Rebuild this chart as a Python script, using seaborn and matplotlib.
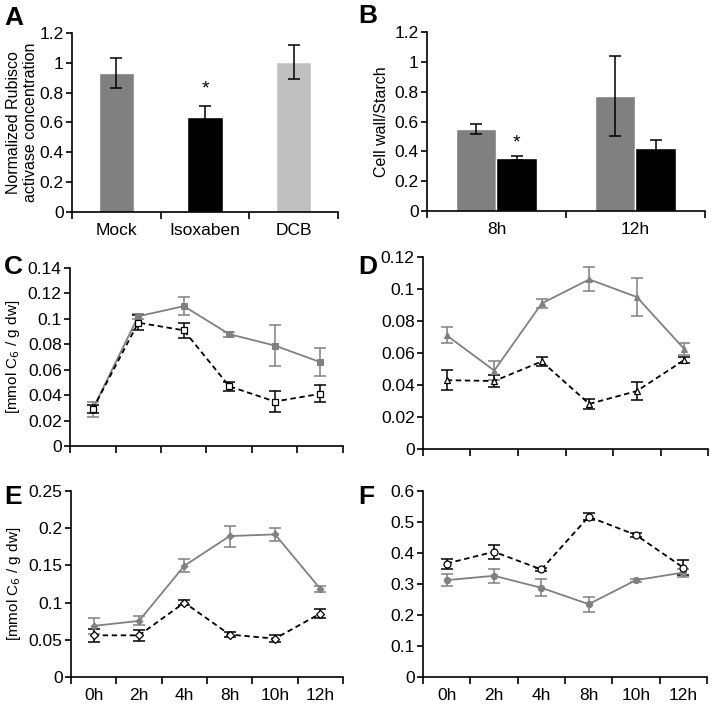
import numpy as np
import pandas as pd
import matplotlib
matplotlib.use("Agg")
import matplotlib.pyplot as plt
import seaborn as sns

# ---------------- data ----------------
a_groups = ["Mock", "Isoxaben", "DCB"]
a_values = [0.93, 0.64, 1.005]
a_errors = [0.10, 0.07, 0.115]

b_times = ["8h", "12h"]
b_series = ["Mock", "Isoxaben"]
b_mock = [0.55, 0.77]
b_mock_err = [0.035, 0.27]
b_iso = [0.355, 0.42]
b_iso_err = [0.015, 0.055]

times = ["0h", "2h", "4h", "8h", "10h", "12h"]

c_gray = [0.029, 0.102, 0.110, 0.088, 0.079, 0.066]
c_gray_err = [0.006, 0.002, 0.007, 0.002, 0.016, 0.011]
c_black = [0.029, 0.097, 0.091, 0.047, 0.035, 0.041]
c_black_err = [0.003, 0.006, 0.006, 0.0035, 0.008, 0.0066]

d_gray = [0.071, 0.049, 0.091, 0.106, 0.095, 0.0625]
d_gray_err = [0.005, 0.006, 0.003, 0.0075, 0.012, 0.004]
d_black = [0.043, 0.0425, 0.0547, 0.0282, 0.0362, 0.0556]
d_black_err = [0.0063, 0.004, 0.003, 0.003, 0.0055, 0.002]

e_gray = [0.0687, 0.0754, 0.1495, 0.1894, 0.1917, 0.1185]
e_gray_err = [0.0105, 0.006, 0.0085, 0.014, 0.0088, 0.004]
e_black = [0.056, 0.056, 0.100, 0.057, 0.0516, 0.0853]
e_black_err = [0.009, 0.007, 0.003, 0.0036, 0.005, 0.0056]

f_gray = [0.3125, 0.3265, 0.2877, 0.235, 0.3125, 0.337]
f_gray_err = [0.019, 0.0225, 0.028, 0.024, 0.005, 0.013]
f_black = [0.366, 0.404, 0.347, 0.517, 0.458, 0.353]
f_black_err = [0.016, 0.023, 0.005, 0.011, 0.005, 0.023]

# ---------------- style ----------------
sns.set_theme(style="ticks")
plt.rcParams["font.family"] = ["Liberation Sans", "DejaVu Sans"]
plt.rcParams["axes.linewidth"] = 1.2
plt.rcParams["xtick.major.width"] = 1.2
plt.rcParams["ytick.major.width"] = 1.2
for k in ["text.color", "axes.labelcolor", "xtick.color", "ytick.color", "axes.edgecolor"]:
    plt.rcParams[k] = "black"

GRAY = "#808080"
LIGHT = "#c0c0c0"
TICK_FS = 12.5
LAB_FS = 11.5

fig = plt.figure(figsize=(7.11, 7.04), dpi=100)

def frac(l, r, b, t):
    W, H = 711, 704
    return [l / W, 1 - b / H, (r - l) / W, (b - t) / H]

axA = fig.add_axes(frac(72, 338, 212, 33))
axB = fig.add_axes(frac(427, 705, 211, 32))
axC = fig.add_axes(frac(70, 343, 446, 268))
axD = fig.add_axes(frac(423, 708, 449, 257))
axE = fig.add_axes(frac(71, 343, 677, 491))
axF = fig.add_axes(frac(423, 707, 677, 491))


def style_axis(ax, n, labels, show_labels=True):
    sns.despine(ax=ax)
    ax.set_xlim(-0.5, n - 0.5)
    ax.set_xticks(np.arange(n + 1) - 0.5)
    ax.set_xticklabels([])
    ax.set_xticks(np.arange(n), minor=True)
    ax.set_xticklabels(labels if show_labels else [], minor=True, fontsize=TICK_FS)
    ax.tick_params(axis="x", which="major", length=5, direction="out", color="black")
    ax.tick_params(axis="x", which="minor", length=0, pad=8)
    ax.tick_params(axis="y", length=4, direction="out", labelsize=TICK_FS, pad=2, color="black")
    for s in ax.spines.values():
        s.set_color("black")
    ax.set_xlabel("")
    ax.grid(False)


# ---------------- A ----------------
dfA = pd.DataFrame({"group": a_groups, "value": a_values})
sns.barplot(data=dfA, x="group", y="value", hue="group",
            palette=[GRAY, "black", LIGHT], width=0.4, ax=axA, legend=False,
            saturation=1)
axA.errorbar(np.arange(3), a_values, yerr=a_errors, fmt="none", ecolor="black",
             elinewidth=1.1, capsize=4, capthick=1.1)
axA.set_ylim(0, 1.2)
axA.set_yticks(np.arange(0, 1.21, 0.2))
axA.set_yticklabels(["0", "0.2", "0.4", "0.6", "0.8", "1", "1.2"])
style_axis(axA, 3, a_groups)
axA.set_ylabel("Normalized Rubisco\nactivase concentration", fontsize=LAB_FS, labelpad=1)
axA.text(1, 0.77, "*", ha="center", va="bottom", fontsize=14)

# ---------------- B ----------------
dfB = pd.DataFrame({"time": b_times * 2,
                    "series": [b_series[0]] * 2 + [b_series[1]] * 2,
                    "value": b_mock + b_iso})
sns.barplot(data=dfB, x="time", y="value", hue="series",
            palette=[GRAY, "black"], width=0.58, ax=axB, legend=False, saturation=1)
off = 0.58 / 4
axB.errorbar(np.arange(2) - off, b_mock, yerr=b_mock_err, fmt="none", ecolor="black",
             elinewidth=1.1, capsize=4, capthick=1.1)
axB.errorbar(np.arange(2) + off, b_iso, yerr=b_iso_err, fmt="none", ecolor="black",
             elinewidth=1.1, capsize=4, capthick=1.1)
axB.set_ylim(0, 1.2)
axB.set_yticks(np.arange(0, 1.21, 0.2))
axB.set_yticklabels(["0", "0.2", "0.4", "0.6", "0.8", "1", "1.2"])
style_axis(axB, 2, b_times)
axB.set_ylabel("Cell wall/Starch", fontsize=LAB_FS, labelpad=4)
axB.text(off, 0.40, "*", ha="center", va="bottom", fontsize=14)


# ---------------- line panels ----------------
def line_panel(ax, gray, gray_err, black, black_err, marker, ms_g, ms_b,
               ylim, yticks, ylabels, show_x):
    x = np.arange(len(times))
    sns.lineplot(x=x, y=gray, ax=ax, color=GRAY, linewidth=1.3, marker=marker,
                 markersize=ms_g, markerfacecolor=GRAY, markeredgecolor=GRAY)
    ax.errorbar(x, gray, yerr=gray_err, fmt="none", ecolor=GRAY, elinewidth=1.1,
                capsize=4, capthick=1.1, zorder=1)
    sns.lineplot(x=x, y=black, ax=ax, color="black", linewidth=1.3, marker=marker,
                 markersize=ms_b, markerfacecolor="white", markeredgecolor="black",
                 markeredgewidth=0.9, linestyle="--")
    ax.lines[-1].set_dashes((3, 2))
    ax.errorbar(x, black, yerr=black_err, fmt="none", ecolor="black", elinewidth=1.1,
                capsize=4, capthick=1.1, zorder=1)
    ax.set_ylim(*ylim)
    ax.set_yticks(yticks)
    ax.set_yticklabels(ylabels)
    style_axis(ax, len(times), times, show_x)


line_panel(axC, c_gray, c_gray_err, c_black, c_black_err, "s", 4.5, 5,
           (0, 0.14), np.arange(0, 0.141, 0.02),
           ["0", "0.02", "0.04", "0.06", "0.08", "0.1", "0.12", "0.14"], False)
line_panel(axD, d_gray, d_gray_err, d_black, d_black_err, "^", 4, 4.5,
           (0, 0.12), np.arange(0, 0.121, 0.02),
           ["0", "0.02", "0.04", "0.06", "0.08", "0.1", "0.12"], False)
line_panel(axE, e_gray, e_gray_err, e_black, e_black_err, "D", 3.5, 4,
           (0, 0.25), np.arange(0, 0.251, 0.05),
           ["0", "0.05", "0.1", "0.15", "0.2", "0.25"], True)
line_panel(axF, f_gray, f_gray_err, f_black, f_black_err, "o", 4.5, 5,
           (0, 0.6), np.arange(0, 0.61, 0.1),
           ["0", "0.1", "0.2", "0.3", "0.4", "0.5", "0.6"], True)

axC.set_ylabel("[mmol C$_6$ / g dw]", fontsize=11, labelpad=4)
axE.set_ylabel("[mmol C$_6$ / g dw]", fontsize=11, labelpad=4)

# ---------------- panel letters ----------------
for letter, (px, py) in {"A": (4, 18), "B": (358, 16), "C": (4, 267), "D": (358, 267),
                         "E": (4, 497), "F": (358, 497)}.items():
    fig.text(px / 711, 1 - py / 704, letter, fontsize=19, fontweight="bold",
             ha="left", va="center")

fig.savefig("out.png", dpi=100)
